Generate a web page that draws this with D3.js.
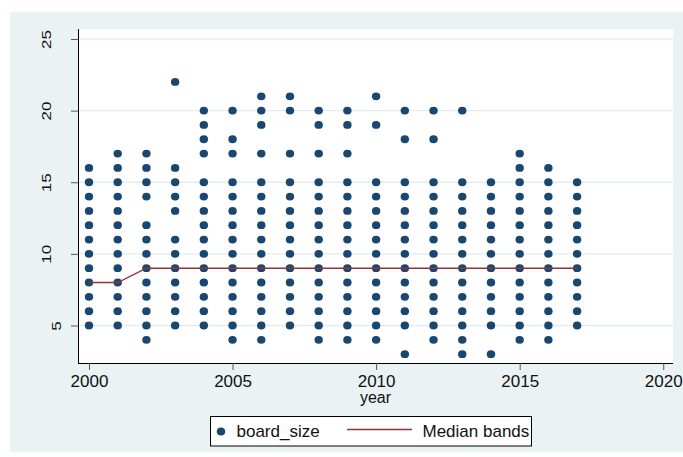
<!DOCTYPE html>
<html>
<head>
<meta charset="utf-8">
<script src="https://cdn.jsdelivr.net/npm/d3@7"></script>
<style>
  body { margin: 0; background: #fff; }
  svg { display: block; font-family: "Liberation Sans", Arial, sans-serif; }
</style>
</head>
<body>
<svg id="chart" width="683" height="457"></svg>
<script>
// data
var years = [2000, 2001, 2002, 2003, 2004, 2005, 2006, 2007, 2008, 2009,
             2010, 2011, 2012, 2013, 2014, 2015, 2016, 2017];

// board sizes observed in each year (same order as years)
var boardSizes = [
  [5, 6, 7, 8, 9, 10, 11, 12, 13, 14, 15, 16],
  [5, 6, 7, 8, 9, 10, 11, 12, 13, 14, 15, 16, 17],
  [4, 5, 6, 7, 8, 9, 10, 11, 12, 14, 15, 16, 17],
  [5, 6, 7, 8, 9, 10, 11, 13, 14, 15, 16, 22],
  [5, 6, 7, 8, 9, 10, 11, 12, 13, 14, 15, 17, 18, 19, 20],
  [4, 5, 6, 7, 8, 9, 10, 11, 12, 13, 14, 15, 17, 18, 20],
  [4, 5, 6, 7, 8, 9, 10, 11, 12, 13, 14, 15, 17, 19, 20, 21],
  [5, 6, 7, 8, 9, 10, 11, 12, 13, 14, 15, 17, 20, 21],
  [4, 5, 6, 7, 8, 9, 10, 11, 12, 13, 14, 15, 17, 19, 20],
  [4, 5, 6, 7, 8, 9, 10, 11, 12, 13, 14, 15, 17, 19, 20],
  [4, 5, 6, 7, 8, 9, 10, 11, 12, 13, 14, 15, 19, 21],
  [3, 5, 6, 7, 8, 9, 10, 11, 12, 13, 14, 15, 18, 20],
  [4, 5, 6, 7, 8, 9, 10, 11, 12, 13, 14, 15, 18, 20],
  [3, 4, 5, 6, 7, 8, 9, 10, 11, 12, 13, 14, 15, 20],
  [3, 5, 6, 7, 8, 9, 10, 11, 12, 13, 14, 15],
  [4, 5, 6, 7, 8, 9, 10, 11, 12, 13, 14, 15, 16, 17],
  [4, 5, 6, 7, 8, 9, 10, 11, 12, 13, 14, 15, 16],
  [5, 6, 7, 8, 9, 10, 11, 12, 13, 14, 15]
];

var medianBand = [8, 8, 9, 9, 9, 9, 9, 9, 9, 9, 9, 9, 9, 9, 9, 9, 9, 9];

var xTicks = [2000, 2005, 2010, 2015, 2020];
var yTicks = [5, 10, 15, 20, 25];

var navy = "#1a476f", maroon = "#90353b", bgcol = "#eaf2f3";

var svg = d3.select("#chart");

// outer graph region
svg.append("rect").attr("x", 10).attr("y", 12).attr("width", 673).attr("height", 440).attr("fill", bgcol);

var pl = 78, pr = 673, pt = 29, pb = 363;
svg.append("rect").attr("x", pl).attr("y", pt).attr("width", pr - pl).attr("height", pb - pt).attr("fill", "#fff");

var x = d3.scaleLinear().domain([1999.617, 2020.34]).range([pl, pr]);
var y = d3.scaleLinear().domain([2.382, 25.698]).range([pb, pt]);

// grid
svg.append("g").selectAll("line").data(yTicks).enter().append("line")
  .attr("x1", pl).attr("x2", pr)
  .attr("y1", d => y(d)).attr("y2", d => y(d))
  .attr("stroke", "#e3ecee").attr("stroke-width", 1.3);

// points
var pts = [];
years.forEach(function(yr, i) {
  boardSizes[i].forEach(function(v) { pts.push({year: yr, v: v}); });
});
svg.append("g").selectAll("ellipse").data(pts).enter().append("ellipse")
  .attr("cx", d => x(d.year)).attr("cy", d => y(d.v))
  .attr("rx", 4.2).attr("ry", 3.9)
  .attr("fill", navy);

// median bands
var line = d3.line().x((d, i) => x(years[i])).y(d => y(d));
svg.append("path").datum(medianBand)
  .attr("d", line).attr("fill", "none")
  .attr("stroke", maroon).attr("stroke-width", 1.4);

// x axis
var xAxis = svg.append("g").attr("transform", "translate(0," + pb + ")")
  .call(d3.axisBottom(x).tickValues(xTicks).tickFormat(d3.format("d")).tickSize(7).tickPadding(5).tickSizeOuter(0));
xAxis.select(".domain").attr("stroke", "#000").attr("d", "M" + pl + ",0.5H" + pr);
xAxis.selectAll(".tick line").attr("stroke", "#555");
xAxis.selectAll("text").attr("font-size", 17).attr("fill", "#111").attr("font-family", null);

// y axis
var yAxis = svg.append("g").attr("transform", "translate(" + pl + ",0)")
  .call(d3.axisLeft(y).tickValues(yTicks).tickSize(7).tickSizeOuter(0));
yAxis.select(".domain").attr("stroke", "#000").attr("d", "M0.5," + pt + "V" + pb);
yAxis.selectAll(".tick line").attr("stroke", "#555");
yAxis.selectAll("text")
  .attr("font-size", 17).attr("fill", "#111").attr("font-family", null)
  .attr("text-anchor", "middle").attr("dy", null).attr("dominant-baseline", "central")
  .attr("x", 0)
  .attr("transform", function() {
    var len = this.getComputedTextLength();
    return "translate(" + (67 - len * 1.1 - pl) + ",0) rotate(-90) scale(1,0.8)";
  });

// axis title
svg.append("text").attr("x", (pl + pr) / 2).attr("y", 403)
  .attr("text-anchor", "middle").attr("font-size", 16).attr("fill", "#111").text("year");

// legend
var lg = svg.append("g");
lg.append("rect").attr("x", 210.5).attr("y", 416.5).attr("width", 321).attr("height", 29.5)
  .attr("fill", "#fff").attr("stroke", "#000").attr("stroke-width", 1);
lg.append("ellipse").attr("cx", 221).attr("cy", 431.5).attr("rx", 4.2).attr("ry", 3.9).attr("fill", navy);
lg.append("text").attr("x", 236.5).attr("y", 437).attr("font-size", 17).attr("fill", "#111").text("board_size");
lg.append("line").attr("x1", 347).attr("x2", 412).attr("y1", 429.5).attr("y2", 429.5)
  .attr("stroke", maroon).attr("stroke-width", 1.4);
lg.append("text").attr("x", 422.5).attr("y", 437).attr("font-size", 17).attr("fill", "#111").text("Median bands");
</script>
</body>
</html>
